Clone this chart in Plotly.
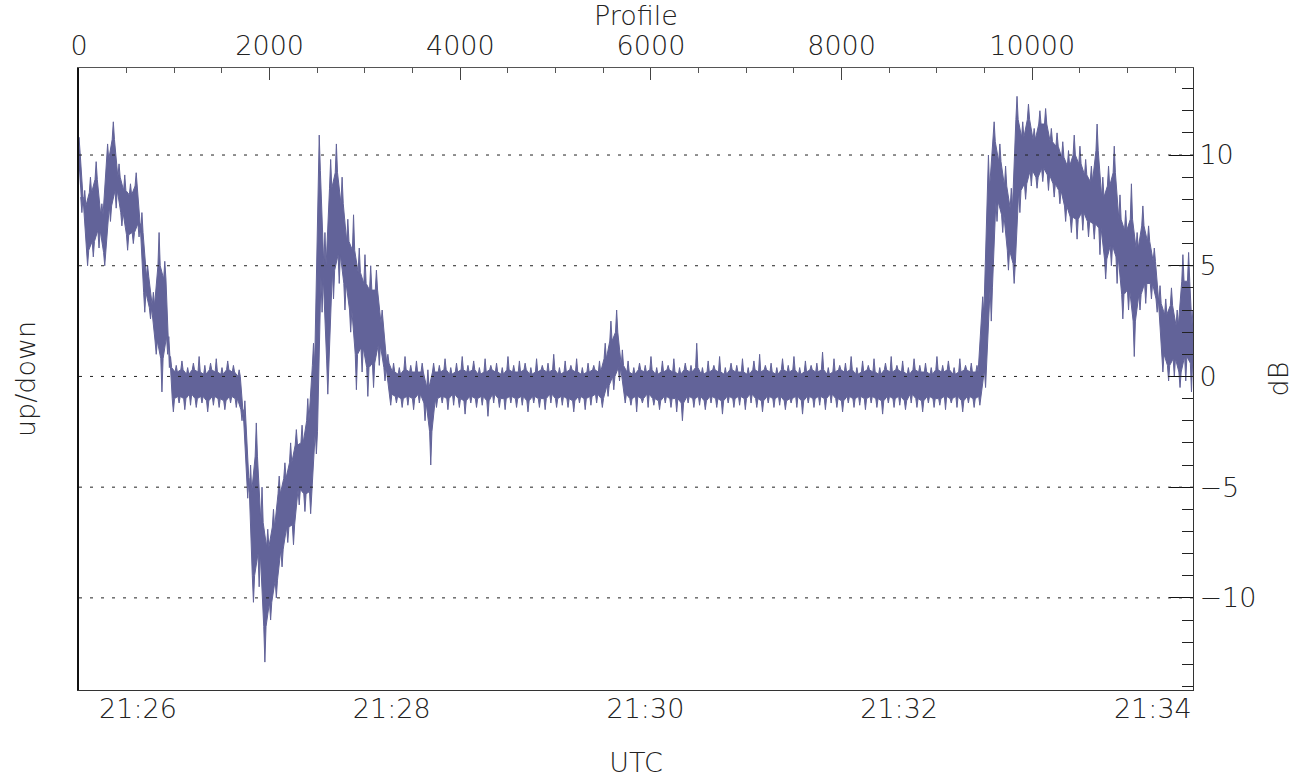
import plotly.graph_objects as go

# ---------------- data ----------------
# profile number of each sampled column
profile = [
    0, 60, 120, 180, 240, 300, 360, 420, 480, 540,
    600, 660, 720, 780, 840, 900, 960, 1020, 1080, 1140,
    1200, 1260, 1320, 1380, 1440, 1500, 1560, 1620, 1680, 1740,
    1800, 1860, 1920, 1980, 2040, 2100, 2160, 2220, 2280, 2340,
    2400, 2460, 2520, 2580, 2640, 2700, 2760, 2820, 2880, 2940,
    3000, 3060, 3120, 3180, 3240, 3300, 3360, 3420, 3480, 3540,
    3600, 3660, 3720, 3780, 3840, 3900, 3960, 4020, 4080, 4140,
    4200, 4260, 4320, 4380, 4440, 4500, 4560, 4620, 4680, 4740,
    4800, 4860, 4920, 4980, 5040, 5100, 5160, 5220, 5280, 5340,
    5400, 5460, 5520, 5580, 5640, 5700, 5760, 5820, 5880, 5940,
    6000, 6060, 6120, 6180, 6240, 6300, 6360, 6420, 6480, 6540,
    6600, 6660, 6720, 6780, 6840, 6900, 6960, 7020, 7080, 7140,
    7200, 7260, 7320, 7380, 7440, 7500, 7560, 7620, 7680, 7740,
    7800, 7860, 7920, 7980, 8040, 8100, 8160, 8220, 8280, 8340,
    8400, 8460, 8520, 8580, 8640, 8700, 8760, 8820, 8880, 8940,
    9000, 9060, 9120, 9180, 9240, 9300, 9360, 9420, 9480, 9540,
    9600, 9660, 9720, 9780, 9840, 9900, 9960, 10020, 10080, 10140,
    10200, 10260, 10320, 10380, 10440, 10500, 10560, 10620, 10680, 10740,
    10800, 10860, 10920, 10980, 11040, 11100, 11160, 11220, 11280, 11340,
    11400, 11460, 11520, 11580, 11640, 11686,
]

# spike maxima (dB) per column
db_high = [
    10.8, 8.4, 9.0, 9.7, 7.8, 10.5, 11.5, 9.6, 9.1, 8.7,
    9.2, 7.4, 5.0, 3.8, 6.5, 5.2, 0.9, 0.5, 0.7, 0.4,
    0.6, 0.9, 0.5, 0.6, 0.8, 0.4, 0.7, 0.5, 0.3, -1.1,
    -4.0, -2.1, -5.0, -6.9, -6.0, -4.5, -3.9, -3.0, -2.4, -2.2,
    -1.0, 1.5, 10.9, 6.5, 9.8, 10.5, 9.0, 7.1, 7.3, 5.8,
    5.5, 5.0, 4.8, 3.0, 1.0, 0.6, 0.4, 0.9, 0.5, 0.7,
    0.6, 0.3, 0.6, 0.5, 0.8, 0.4, 0.6, 0.9, 0.5, 0.7,
    0.4, 0.8, 0.5, 0.6, 0.4, 0.9, 0.5, 0.7, 0.6, 0.4,
    0.8, 0.5, 0.6, 1.0, 0.4, 0.7, 0.5, 0.8, 0.4, 0.6,
    0.5, 0.7, 1.5, 2.5, 3.0, 1.2, 0.7, 0.4, 0.6, 0.5,
    0.9, 0.4, 0.7, 0.5, 0.8, 0.4, 0.6, 0.5, 1.5, 0.4,
    0.7, 0.5, 0.9, 0.4, 0.6, 0.5, 0.8, 0.4, 0.7, 1.0,
    0.5, 0.6, 0.4, 0.8, 0.5, 0.9, 0.4, 0.7, 0.5, 0.6,
    1.1, 0.4, 0.8, 0.5, 0.6, 0.9, 0.4, 0.7, 0.5, 0.8,
    0.4, 0.6, 0.9, 0.5, 0.7, 0.4, 0.8, 0.5, 0.6, 0.4,
    0.9, 0.5, 0.7, 0.4, 0.8, 0.5, 0.6, 0.5, 3.6, 10.0,
    11.5, 10.5, 9.5, 8.5, 12.65, 11.5, 12.3, 11.2, 12.0, 12.1,
    11.2, 11.0, 10.6, 10.2, 10.9, 10.4, 9.8, 9.5, 11.4, 9.0,
    9.5, 10.4, 8.2, 7.5, 8.7, 6.5, 7.7, 6.8, 5.8, 4.1,
    3.5, 4.0, 3.0, 5.5, 5.6, 3.0,
]

# top of the dense core (dB) per column
db_core_high = [
    10.1, 7.7, 8.3, 8.9, 7.3, 9.8, 10.7, 9.0, 8.4, 8.2,
    8.6, 6.5, 4.5, 3.2, 5.0, 4.4, 0.4, 0.2, 0.3, 0.1,
    0.3, 0.2, 0.1, 0.3, 0.2, 0.1, 0.3, 0.2, 0.0, -2.0,
    -5.2, -3.6, -6.6, -7.7, -6.8, -5.3, -4.6, -3.9, -3.1, -3.0,
    -2.0, 0.5, 9.3, 5.0, 8.5, 9.2, 7.8, 6.1, 5.7, 4.7,
    4.2, 3.9, 3.9, 2.4, 0.6, 0.2, 0.1, 0.3, 0.2, 0.2,
    0.2, -0.5, 0.2, 0.2, 0.3, 0.1, 0.2, 0.3, 0.2, 0.3,
    0.1, 0.2, 0.3, 0.2, 0.1, 0.3, 0.2, 0.2, 0.3, 0.1,
    0.2, 0.3, 0.2, 0.3, 0.1, 0.2, 0.3, 0.2, 0.1, 0.2,
    0.3, 0.2, 0.8, 1.6, 2.0, 0.5, 0.2, 0.1, 0.3, 0.2,
    0.3, 0.1, 0.2, 0.3, 0.2, 0.1, 0.3, 0.2, 0.4, 0.1,
    0.2, 0.3, 0.2, 0.1, 0.3, 0.2, 0.2, 0.1, 0.3, 0.2,
    0.3, 0.2, 0.1, 0.3, 0.2, 0.3, 0.1, 0.2, 0.3, 0.2,
    0.3, 0.1, 0.2, 0.3, 0.2, 0.3, 0.1, 0.2, 0.3, 0.2,
    0.1, 0.3, 0.2, 0.3, 0.2, 0.1, 0.3, 0.2, 0.2, 0.1,
    0.3, 0.2, 0.3, 0.1, 0.2, 0.3, 0.2, 0.2, 2.8, 8.5,
    10.6, 9.7, 8.6, 7.6, 11.6, 10.8, 11.6, 10.7, 11.4, 11.4,
    10.6, 10.4, 9.9, 9.5, 10.0, 9.6, 9.1, 8.8, 10.2, 8.1,
    8.6, 9.2, 7.1, 6.6, 7.1, 5.8, 6.8, 6.1, 5.2, 3.3,
    2.8, 3.2, 2.3, 4.3, 4.3, 2.3,
]

# bottom of the dense core (dB) per column
db_core_low = [
    8.1, 5.7, 6.1, 6.6, 5.6, 7.7, 8.4, 7.4, 6.4, 6.5,
    6.9, 3.8, 3.1, 1.6, 0.8, 1.8, -1.0, -0.9, -1.0, -0.8,
    -1.0, -0.9, -1.1, -0.9, -1.0, -1.1, -0.9, -1.0, -1.5, -4.6,
    -9.0, -8.0, -11.3, -10.2, -9.2, -7.8, -6.8, -6.7, -5.1, -5.3,
    -5.2, -2.5, 4.5, 0.7, 4.8, 5.5, 4.2, 3.0, 1.0, 1.3,
    0.4, 0.6, 1.4, 0.4, -0.8, -0.9, -1.0, -0.9, -1.0, -0.8,
    -1.2, -2.5, -1.0, -0.9, -1.0, -0.8, -1.0, -1.1, -0.9, -1.0,
    -0.9, -1.1, -0.8, -1.0, -1.0, -0.9, -1.0, -0.9, -1.1, -0.9,
    -1.0, -1.0, -0.8, -1.0, -0.9, -1.0, -1.1, -0.9, -1.0, -0.9,
    -0.8, -1.0, -0.4, 0.0, 0.4, -0.8, -1.0, -0.9, -1.0, -0.8,
    -1.0, -1.1, -0.9, -1.0, -1.0, -1.2, -0.9, -1.0, -0.9, -1.1,
    -0.9, -1.0, -1.1, -0.9, -1.0, -0.9, -1.0, -0.8, -1.0, -1.1,
    -0.9, -1.0, -0.9, -1.1, -1.0, -0.9, -1.1, -0.9, -1.0, -0.9,
    -1.0, -0.8, -1.0, -1.1, -0.9, -1.0, -0.9, -1.0, -0.9, -1.0,
    -1.1, -0.9, -1.0, -0.9, -1.1, -0.8, -1.0, -1.1, -0.9, -1.0,
    -1.0, -0.9, -1.0, -0.9, -1.1, -0.9, -1.0, -0.9, 0.3, 4.0,
    7.9, 7.3, 5.7, 5.1, 8.4, 8.7, 9.3, 9.0, 9.4, 9.1,
    8.7, 8.4, 7.7, 7.2, 7.1, 7.4, 7.0, 6.9, 6.7, 5.3,
    5.9, 5.4, 3.7, 3.9, 2.5, 3.7, 4.2, 4.2, 3.5, 1.0,
    0.5, 0.8, 0.2, 0.9, 0.6, 0.4,
]

# spike minima (dB) per column
db_low = [
    7.4, 5.0, 5.4, 5.8, 5.0, 7.0, 7.6, 6.8, 5.7, 6.0,
    6.3, 2.9, 2.6, 1.0, -0.7, 1.0, -1.6, -1.2, -1.5, -1.3,
    -1.4, -1.2, -1.6, -1.3, -1.4, -1.5, -1.2, -1.4, -2.0, -5.5,
    -10.2, -9.5, -12.9, -11.0, -10.0, -8.6, -7.5, -7.6, -5.8, -6.1,
    -6.2, -3.5, 2.9, -0.8, 3.5, 4.2, 3.0, 2.0, -0.6, 0.2,
    -0.9, -0.5, 0.5, -0.2, -1.3, -1.2, -1.4, -1.3, -1.5, -1.2,
    -2.0, -4.0, -1.4, -1.2, -1.5, -1.3, -1.4, -1.7, -1.2, -1.4,
    -1.3, -1.8, -1.2, -1.4, -1.5, -1.2, -1.4, -1.3, -1.6, -1.2,
    -1.4, -1.5, -1.2, -1.4, -1.3, -1.4, -1.6, -1.2, -1.5, -1.3,
    -1.2, -1.4, -0.9, -0.6, -0.2, -1.2, -1.3, -1.6, -1.2, -1.4,
    -1.3, -1.5, -1.2, -1.4, -1.6, -2.0, -1.2, -1.4, -1.3, -1.5,
    -1.2, -1.4, -1.7, -1.2, -1.4, -1.3, -1.5, -1.2, -1.4, -1.6,
    -1.2, -1.4, -1.3, -1.5, -1.2, -1.4, -1.7, -1.2, -1.4, -1.3,
    -1.5, -1.2, -1.4, -1.6, -1.2, -1.4, -1.3, -1.5, -1.2, -1.4,
    -1.7, -1.2, -1.4, -1.3, -1.5, -1.2, -1.4, -1.6, -1.2, -1.4,
    -1.3, -1.5, -1.2, -1.4, -1.6, -1.2, -1.4, -1.3, -0.5, 2.5,
    7.0, 6.5, 4.8, 4.2, 7.4, 8.0, 8.6, 8.5, 8.8, 8.4,
    8.1, 7.8, 7.0, 6.5, 6.2, 6.6, 6.3, 6.2, 5.5, 4.4,
    5.0, 4.2, 2.6, 3.0, 0.9, 3.0, 3.3, 3.5, 2.9, 0.2,
    -0.2, 0.0, -0.5, -0.2, -0.7, -0.3,
]

time_range = ["2000-01-01 21:25:32.1", "2000-01-01 21:34:19.0"]
profile_range = [0, 11686]
db_range = [-14.16, 13.93]
grid_levels = [-10, -5, 0, 5, 10]

# ---------------- style ----------------
LINE = "#626399"
TXT = "#222222"
AX = "#333333"
FONT = dict(family="DejaVu Sans", size=27, color=TXT, weight=200)

# build the noisy band outline: thin spikes on top of a dense core
SPIKE_HALF = 12      # half width of a spike, in profiles
LOW_SHIFT = 30       # lower spikes sit between upper spikes
band_x, band_y = [], []
for p, h, ch in zip(profile, db_high, db_core_high):
    band_x += [p - SPIKE_HALF, p, p + SPIKE_HALF]
    band_y += [ch, h, ch]
for p, l, cl in reversed(list(zip(profile, db_low, db_core_low))):
    q = p + LOW_SHIFT
    band_x += [q + SPIKE_HALF, q, q - SPIKE_HALF]
    band_y += [cl, l, cl]

fig = go.Figure()
fig.add_trace(go.Scatter(
    x=band_x, y=band_y,
    mode="lines", fill="toself", fillcolor=LINE,
    line=dict(color=LINE, width=1),
    xaxis="x2", yaxis="y", hoverinfo="skip", showlegend=False,
))
# invisible anchor trace so the time axis / left axis are drawn
fig.add_trace(go.Scatter(
    x=[time_range[0]], y=[0], mode="markers", marker=dict(opacity=0),
    xaxis="x", yaxis="y2", hoverinfo="skip", showlegend=False,
))

shapes = [
    dict(type="line", xref="paper", x0=0, x1=1, yref="y", y0=g, y1=g,
         line=dict(color="#222222", width=1, dash="3px,8px"), layer="above")
    for g in grid_levels
]

fig.update_layout(
    width=1308, height=779,
    margin=dict(l=79, r=115, t=68, b=89),
    paper_bgcolor="white", plot_bgcolor="white",
    font=FONT, showlegend=False, shapes=shapes,
    xaxis=dict(
        type="date", range=time_range, side="bottom", anchor="y",
        tickmode="linear", tick0="2000-01-01 21:26:00", dtick=120000,
        tickformat="%H:%M", ticks="inside", ticklen=18, tickwidth=1,
        tickcolor="#111", showline=True, linecolor=AX, linewidth=1,
        showgrid=False, zeroline=False, layer="above traces",
        minor=dict(tickmode="linear", tick0="2000-01-01 21:26:00", dtick=30000,
                   ticks="inside", ticklen=9, tickcolor="#777", showgrid=False),
        tickfont=FONT, ticklabelstandoff=-5,
        title=dict(text="UTC", font=FONT, standoff=29),
        automargin=False,
    ),
    xaxis2=dict(
        range=profile_range, overlaying="x", side="top", anchor="y",
        tickmode="linear", tick0=0, dtick=2000, tickformat="d",
        ticks="inside", ticklen=12,
        tickcolor="#444", showline=True, linecolor="#555", linewidth=1,
        showgrid=False, zeroline=False, layer="above traces",
        minor=dict(tickmode="linear", tick0=0, dtick=500, ticks="inside",
                   ticklen=5, tickcolor="#555", showgrid=False),
        tickfont=FONT, ticklabelstandoff=1,
        title=dict(text="Profile", font=FONT, standoff=0),
        automargin=False,
    ),
    yaxis=dict(
        range=db_range, side="right", anchor="x",
        tickmode="linear", tick0=0, dtick=5, ticks="inside", ticklen=24,
        tickcolor="#111", showline=True, linecolor=AX, linewidth=1,
        showgrid=False, zeroline=False, layer="above traces",
        minor=dict(tickmode="linear", tick0=0, dtick=1, ticks="inside",
                   ticklen=11, tickcolor="#222", showgrid=False),
        tickfont=FONT, ticklabelstandoff=0,
        title=dict(text="dB", font=FONT, standoff=13),
        automargin=False,
    ),
    yaxis2=dict(
        range=db_range, overlaying="y", side="left", anchor="x",
        tickmode="linear", tick0=0, dtick=5, ticks="inside", ticklen=26,
        tickcolor="#111", showticklabels=False, showline=True,
        linecolor="#111", linewidth=1.5, showgrid=False, zeroline=False,
        layer="above traces",
        minor=dict(tickmode="linear", tick0=0, dtick=1, ticks="inside",
                   ticklen=17, tickcolor="#111", showgrid=False),
        title=dict(text="up/down", font=FONT, standoff=34),
        automargin=False,
    ),
)

fig.write_html("out.html")
